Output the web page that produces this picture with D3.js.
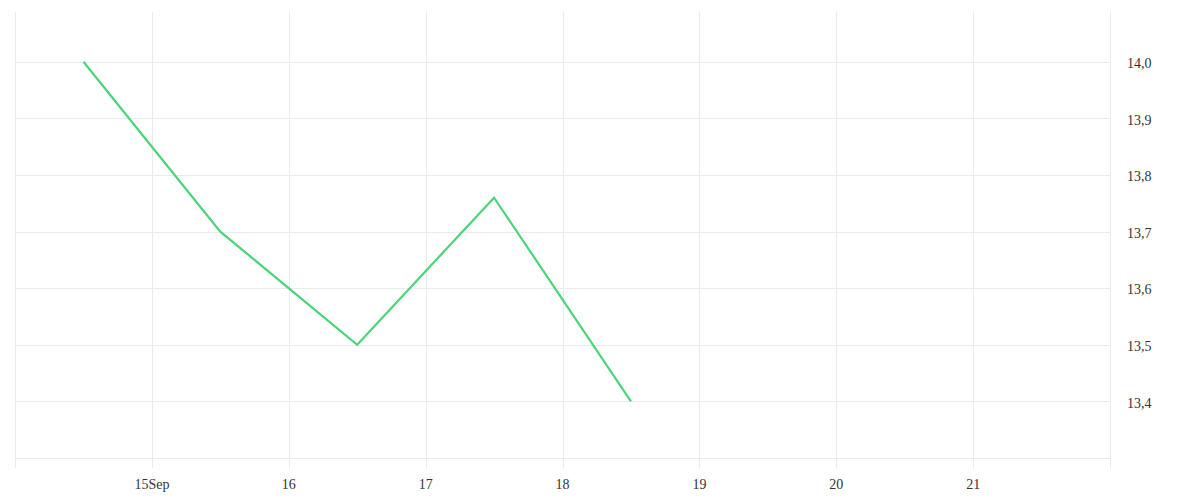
<!DOCTYPE html>
<html>
<head>
<meta charset="utf-8">
<script src="https://cdn.jsdelivr.net/npm/d3@7"></script>
<style>
  body { margin: 0; background: #fff; }
  svg text { font-family: "Liberation Serif", serif; font-size: 14px; fill: #333; }
</style>
</head>
<body>
<div class="chart-container"></div>
<script>
// data
const dates = ['2023-09-14T12:00', '2023-09-15T12:00', '2023-09-16T12:00', '2023-09-17T12:00', '2023-09-18T12:00'];
const values = [14.0, 13.7, 13.5, 13.76, 13.4];
const yTicks = [13.4, 13.5, 13.6, 13.7, 13.8, 13.9, 14.0];
const xTickDays = ['2023-09-15', '2023-09-16', '2023-09-17', '2023-09-18', '2023-09-19', '2023-09-20', '2023-09-21'];

const W = 1200, H = 500;
const margin = { top: 12, right: 90, bottom: 42, left: 15 };
const width = W - margin.left - margin.right;
const height = H - margin.top - margin.bottom;

const svg = d3.select('.chart-container')
    .append('svg')
    .attr('width', W)
    .attr('height', H);

const g = svg.append('g')
    .attr('transform', `translate(${margin.left},${margin.top})`);

const parse = d3.timeParse('%Y-%m-%dT%H:%M');
const parseDay = d3.timeParse('%Y-%m-%d');
const data = dates.map((d, i) => ({ date: parse(d), value: values[i] }));

const x = d3.scaleTime()
    .domain([parseDay('2023-09-14'), parseDay('2023-09-22')])
    .range([0, width]);

const y = d3.scaleLinear()
    .domain([13.3, 14.088])
    .range([height, 0]);

const gridColor = '#ebebeb';

// horizontal grid
g.append('g')
    .selectAll('line')
    .data([13.3, ...yTicks])
    .enter()
    .append('line')
    .attr('x1', 0)
    .attr('x2', width)
    .attr('y1', d => Math.round(y(d)) + 0.5)
    .attr('y2', d => Math.round(y(d)) + 0.5)
    .attr('stroke', gridColor);

// vertical grid (incl. left and right edges)
const vDays = [parseDay('2023-09-14'), ...xTickDays.map(parseDay), parseDay('2023-09-22')];
g.append('g')
    .selectAll('line')
    .data(vDays)
    .enter()
    .append('line')
    .attr('x1', d => Math.round(x(d)) + 0.5)
    .attr('x2', d => Math.round(x(d)) + 0.5)
    .attr('y1', 0)
    .attr('y2', height + 10)
    .attr('stroke', gridColor);

// x labels
const fmt = d => d.getDate() === 15 ? d.getDate() + 'Sep' : String(d.getDate());
g.append('g')
    .selectAll('text')
    .data(xTickDays.map(parseDay))
    .enter()
    .append('text')
    .attr('x', d => x(d))
    .attr('y', height + 31)
    .attr('text-anchor', 'middle')
    .text(fmt);

// y labels (right side)
g.append('g')
    .selectAll('text')
    .data(yTicks)
    .enter()
    .append('text')
    .attr('x', width + 17)
    .attr('y', d => y(d) + 3)
    .attr('dominant-baseline', 'middle')
    .text(d => d.toFixed(1).replace('.', ','));

// line
const line = d3.line()
    .x(d => x(d.date))
    .y(d => y(d.value));

g.append('path')
    .datum(data)
    .attr('fill', 'none')
    .attr('stroke', '#4cd47a')
    .attr('stroke-width', 2.2)
    .attr('d', line);
</script>
</body>
</html>
